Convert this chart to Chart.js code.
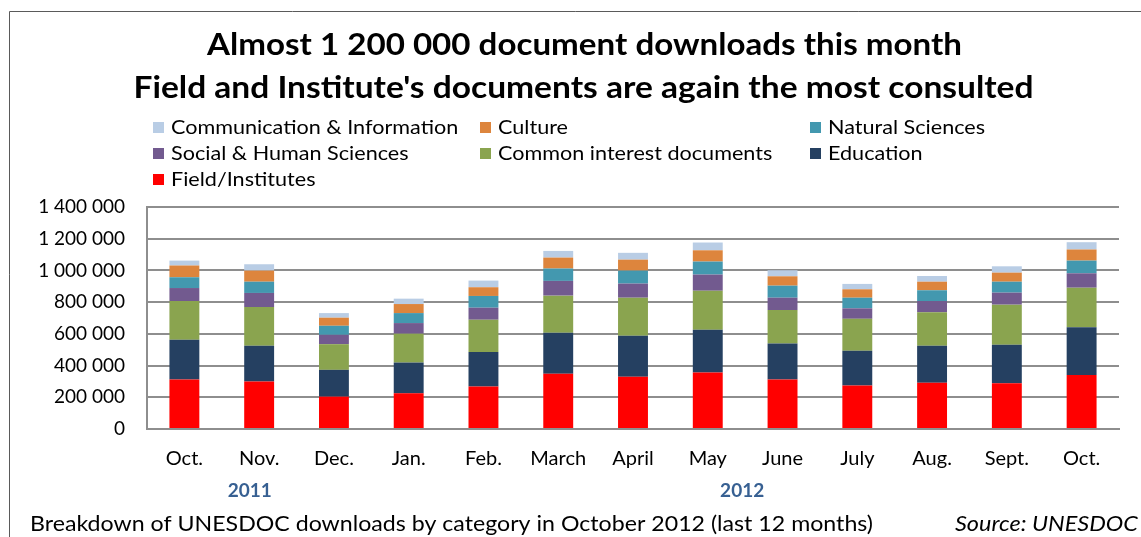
<!DOCTYPE html>
<html>
<head>
<meta charset="utf-8">
<script src="https://cdn.jsdelivr.net/npm/chart.js@4.4.0/dist/chart.umd.min.js"></script>
<style>
html,body{margin:0;padding:0;background:#fff;}
#wrap{position:relative;width:1141px;height:537px;}
canvas{display:block;}
</style>
</head>
<body>
<div id="wrap"><canvas id="c" width="1141" height="537"></canvas></div>
<script>
const months = ['Oct.','Nov.','Dec.','Jan.','Feb.','March','April','May','June','July','Aug.','Sept.','Oct.'];
const yearLabels = ['2011','2012'];
const fieldInstitutes = [312000, 299000, 204000, 225000, 268000, 348000, 329000, 356000, 312000, 274000, 291000, 289000, 341000];
const education      = [251000, 226000, 169000, 194000, 217000, 259000, 259000, 270000, 227000, 219000, 234000, 242000, 300000];
const commonInterest = [244000, 244000, 162000, 182000, 204000, 234000, 240000, 246000, 211000, 202000, 211000, 253000, 250000];
const socialHuman    = [82000, 89000, 59000, 67000, 76000, 93000, 89000, 102000, 78000, 66000, 71000, 76000, 91000];
const naturalSci     = [68000, 71000, 57000, 63000, 74000, 78000, 82000, 82000, 76000, 67000, 68000, 69000, 80000];
const culture        = [74000, 70000, 51000, 57000, 55000, 69000, 69000, 71000, 59000, 53000, 54000, 57000, 70000];
const commInfo       = [31000, 40000, 29000, 34000, 42000, 42000, 43000, 49000, 38000, 34000, 36000, 40000, 46000];
const yTicks = [0, 200000, 400000, 600000, 800000, 1000000, 1200000, 1400000];

const titleLines = ['Almost 1 200 000 document downloads this month', "Field and Institute's documents are again the most consulted"];
const footerText = 'Breakdown of UNESDOC downloads by category in October 2012 (last 12 months)';
const sourceText = 'Source: UNESDOC';

const FONT = 'Lato, "Open Sans", sans-serif';

const datasets = [
  {label:'Field/Institutes', data: fieldInstitutes, backgroundColor:'#FF0000'},
  {label:'Education', data: education, backgroundColor:'#254061'},
  {label:'Common interest documents', data: commonInterest, backgroundColor:'#8AA44F'},
  {label:'Social & Human Sciences', data: socialHuman, backgroundColor:'#725A8F'},
  {label:'Natural Sciences', data: naturalSci, backgroundColor:'#4398AF'},
  {label:'Culture', data: culture, backgroundColor:'#DD853D'},
  {label:'Communication & Information', data: commInfo, backgroundColor:'#B9CDE5'}
];

function fmt(v){ return String(v).replace(/\B(?=(\d{3})+(?!\d))/g, ' '); }

// draw text stretched to a target width (mimics the narrower original face)
function fitText(ctx, text, x, y, width, align){
  const w = ctx.measureText(text).width;
  const sx = width / w;
  ctx.save();
  let left = x;
  if (align === 'center') left = x - width / 2;
  else if (align === 'right') left = x - width;
  ctx.translate(left, y);
  ctx.scale(sx, 1);
  ctx.textAlign = 'left';
  ctx.fillText(text, 0, 0);
  ctx.restore();
}

const decor = {
  id:'decor',
  afterDraw(chart){
    const ctx = chart.ctx;
    ctx.save();
    // frame
    ctx.strokeStyle = '#5a5a5a';
    ctx.lineWidth = 1;
    ctx.beginPath();
    ctx.moveTo(9.5, 537); ctx.lineTo(9.5, 11.5); ctx.lineTo(1141, 11.5);
    ctx.stroke();
    // title
    ctx.fillStyle = '#000';
    ctx.textBaseline = 'middle';
    ctx.font = 'bold 31px ' + FONT;
    fitText(ctx, titleLines[0], 584.5, 45, 755, 'center');
    fitText(ctx, titleLines[1], 583.5, 88, 900, 'center');
    // legend (reverse of stack order), 3 columns
    const cols = [153, 480, 810];
    const rows = [128, 154, 180];
    ctx.font = '20px ' + FONT;
    const items = chart.data.datasets.slice().reverse();
    items.forEach((ds, i) => {
      const cx = cols[i % 3], cy = rows[Math.floor(i / 3)];
      ctx.fillStyle = ds.backgroundColor;
      ctx.fillRect(cx, cy - 6, 11, 11);
      ctx.fillStyle = '#000';
      const w = ctx.measureText(ds.label).width;
      fitText(ctx, ds.label, cx + 18, cy, w * 1.08, 'left');
    });
    // year labels
    const xs = chart.scales.x;
    ctx.font = 'bold 19px ' + FONT;
    ctx.fillStyle = '#376092';
    ctx.textAlign = 'center';
    ctx.fillText(yearLabels[0], (xs.getPixelForValue(0) + xs.getPixelForValue(1)) / 2 + 28, 491);
    ctx.fillText(yearLabels[1], (xs.getPixelForValue(7) + xs.getPixelForValue(8)) / 2 - 3, 491);
    // footer
    ctx.fillStyle = '#000';
    ctx.font = '21px ' + FONT;
    fitText(ctx, footerText, 30, 524, 843, 'left');
    ctx.font = 'italic 21px ' + FONT;
    fitText(ctx, sourceText, 1138, 524, 183, 'right');
    ctx.restore();
  }
};

new Chart(document.getElementById('c'), {
  type:'bar',
  data:{ labels: months, datasets },
  options:{
    responsive:false,
    animation:false,
    layout:{ padding:{ left:0, right:22, top:207, bottom:0 } },
    plugins:{ legend:{display:false}, title:{display:false}, tooltip:{enabled:false} },
    datasets:{ bar:{ barPercentage:0.4, categoryPercentage:1.0 } },
    scales:{
      x:{
        stacked:true,
        grid:{ display:false, drawTicks:false },
        border:{ color:'#8e8e8e', width:2 },
        ticks:{ color:'#000', font:{ family:FONT, size:20 }, padding:18, maxRotation:0, autoSkip:false },
        afterFit(s){ s.height = 108; }
      },
      y:{
        stacked:true,
        min:0, max:1400000,
        afterBuildTicks(s){ s.ticks = yTicks.map(v => ({value:v})); },
        grid:{ color:'#8e8e8e', lineWidth:2, drawTicks:false },
        border:{ color:'#8e8e8e', width:2 },
        ticks:{ color:'#000', font:{ family:FONT, size:19 }, padding:22, callback:(v)=>fmt(v) },
        afterFit(s){ s.width = 147; }
      }
    }
  },
  plugins:[decor]
});
</script>
</body>
</html>
